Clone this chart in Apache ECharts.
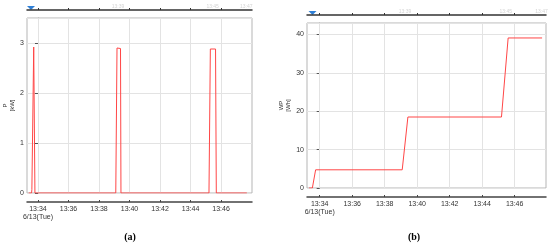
<!DOCTYPE html>
<html>
<head>
<meta charset="utf-8">
<script src="https://cdn.jsdelivr.net/npm/echarts@6/dist/echarts.min.js"></script>
<style>
html, body { margin: 0; padding: 0; background: #fff; }
#main { width: 550px; height: 245px; }
</style>
</head>
<body>
<div id="main"></div>
<script>
// minutes after 13:34:00
var powerTimes = [-0.61, -0.42, -0.40, -0.37, -0.28, -0.23, -0.20, 5.10, 5.18, 5.41, 5.44, 11.21, 11.30, 11.64, 11.69, 13.69];
var powerValues = [0, 0, 0.07, 0.03, 2.92, 2.92, 0, 0, 2.90, 2.89, 0, 0, 2.88, 2.88, 0, 0];

var energyTimes = [-0.66, -0.45, -0.25, 5.08, 5.43, 11.19, 11.60, 13.69];
var energyValues = [0, 0, 4.74, 4.74, 18.5, 18.5, 39.1, 39.1];

var tickMinutes = [0, 2, 4, 6, 8, 10, 12];
var tickLabels = ['13:34', '13:36', '13:38', '13:40', '13:42', '13:44', '13:46'];
var dateLabel = '6/13(Tue)';

var eventMinutes = [5.25, 11.45, 13.65];
var eventLabels = ['13:39', '13:45', '13:47'];

var chart = echarts.init(document.getElementById('main'));

var font = 'Liberation Sans';
var red = '#ff4646';

function pairs(xs, ys) {
    var out = [];
    for (var i = 0; i < xs.length; i++) out.push([xs[i], ys[i]]);
    return out;
}

function timeLabel(v) {
    var i = tickMinutes.indexOf(v);
    if (i < 0) return '';
    return i === 0 ? tickLabels[i] + '\n' + dateLabel : tickLabels[i];
}

function bottomAxis(grid, min, max) {
    return {
        type: 'value', gridIndex: grid, position: 'bottom', offset: 9,
        min: min, max: max,
        axisLine: { show: true, onZero: false, lineStyle: { color: '#444', width: 1.5 } },
        axisTick: { show: true, inside: true, length: 2, customValues: tickMinutes, lineStyle: { color: '#444' } },
        axisLabel: { customValues: tickMinutes, formatter: timeLabel, color: '#333', fontSize: 7, fontFamily: font, margin: 3, lineHeight: 8 },
        splitLine: { show: false }
    };
}

function topAxis(grid, min, max) {
    return {
        type: 'value', gridIndex: grid, position: 'top', offset: 8,
        min: min, max: max,
        axisLine: { show: true, onZero: false, lineStyle: { color: '#333', width: 1.5 } },
        axisTick: { show: true, length: 2, customValues: tickMinutes, lineStyle: { color: '#333' } },
        axisLabel: {
            customValues: eventMinutes,
            formatter: function (v) { var i = eventMinutes.indexOf(v); return i < 0 ? '' : eventLabels[i]; },
            color: '#d4d4d4', fontSize: 5, fontFamily: font, margin: 1
        },
        splitLine: { show: false }
    };
}

function leftAxis(grid, max, interval, name, gap) {
    return {
        type: 'value', gridIndex: grid, min: 0, max: max, interval: interval,
        name: name, nameLocation: 'middle', nameRotate: 90, nameGap: gap,
        nameTextStyle: { color: '#333', fontSize: 6, fontFamily: font, lineHeight: 7 },
        axisLine: { show: true, lineStyle: { color: '#aaa' } },
        axisTick: { show: true, length: 3, lineStyle: { color: '#555' } },
        axisLabel: { color: '#333', fontSize: 7, fontFamily: font, margin: 3, showMaxLabel: false },
        splitLine: { show: true, lineStyle: { color: '#e3e3e3', width: 1 } }
    };
}

function gridLines() {
    return {
        silent: true, symbol: 'none', z: 1, animation: false,
        label: { show: false },
        lineStyle: { color: '#e3e3e3', width: 1, type: 'solid' },
        data: tickMinutes.map(function (v) { return { xAxis: v }; })
    };
}

option = {
    animation: false,
    backgroundColor: '#fff',
    grid: [
        { left: 27, right: 298, top: 18, bottom: 52, show: true, borderColor: '#b5b5b5', borderWidth: 1, outerBoundsMode: 'none' },
        { left: 307, right: 4, top: 23, bottom: 57, show: true, borderColor: '#b5b5b5', borderWidth: 1, outerBoundsMode: 'none' }
    ],
    xAxis: [
        bottomAxis(0, -0.72, 14.03),
        topAxis(0, -0.72, 14.03),
        bottomAxis(1, -0.78, 13.93),
        topAxis(1, -0.78, 13.93)
    ],
    yAxis: [
        leftAxis(0, 3.5, 1, 'P\n[kW]', 11),
        leftAxis(1, 43, 10, 'WP\n[Wh]', 15)
    ],
    series: [
        {
            type: 'line', xAxisIndex: 0, yAxisIndex: 0, z: 3,
            data: pairs(powerTimes, powerValues),
            showSymbol: false, symbol: 'none',
            lineStyle: { color: red, width: 1 },
            markLine: gridLines()
        },
        {
            type: 'line', xAxisIndex: 2, yAxisIndex: 1, z: 3,
            data: pairs(energyTimes, energyValues),
            showSymbol: false, symbol: 'none',
            lineStyle: { color: red, width: 1 },
            markLine: gridLines()
        }
    ],
    graphic: [
        { type: 'polygon', shape: { points: [[27, 6], [35, 6], [31, 10]] }, style: { fill: '#2e7fd6' } },
        { type: 'polygon', shape: { points: [[308.5, 11], [316.5, 11], [312.5, 15]] }, style: { fill: '#2e7fd6' } },
        { type: 'text', x: 130, y: 237, style: { text: '(a)', fill: '#000', font: 'bold 10px "Liberation Serif"', textAlign: 'center', textVerticalAlign: 'middle' } },
        { type: 'text', x: 414, y: 237, style: { text: '(b)', fill: '#000', font: 'bold 10px "Liberation Serif"', textAlign: 'center', textVerticalAlign: 'middle' } }
    ]
};

if (option && typeof option === "object") {
    chart.setOption(option, true);
}
</script>
</body>
</html>
